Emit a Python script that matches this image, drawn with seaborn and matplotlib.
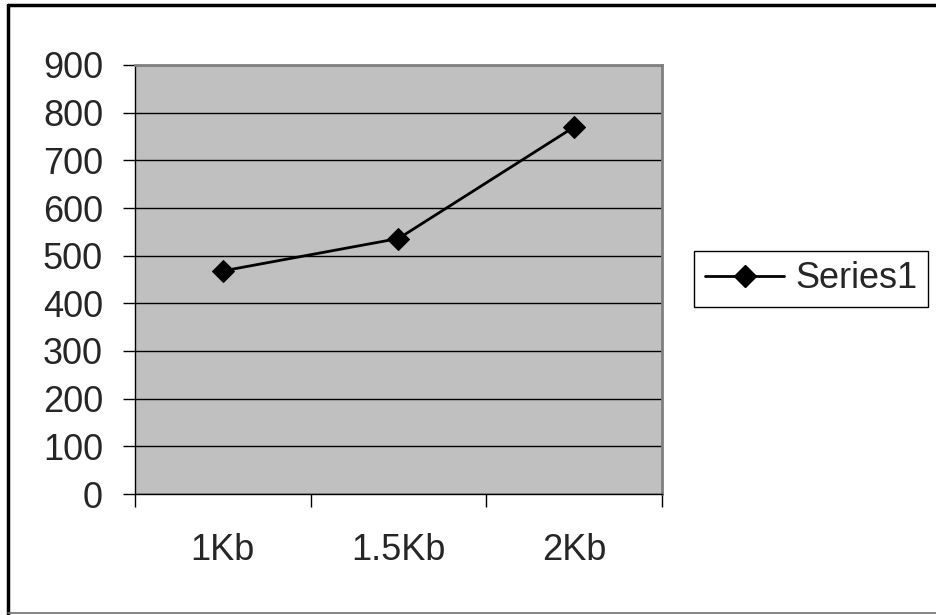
import matplotlib
matplotlib.use("Agg")
import matplotlib.pyplot as plt
import seaborn as sns
import pandas as pd
from matplotlib.lines import Line2D

# chart data
categories = ["1Kb", "1.5Kb", "2Kb"]
series1 = [468, 536, 770]
y_ticks = [0, 100, 200, 300, 400, 500, 600, 700, 800, 900]

df = pd.DataFrame({"size": categories, "value": series1})

sns.set_style("white")
plt.rcParams["font.family"] = ["Liberation Sans", "DejaVu Sans"]

W, H = 936, 615
fig = plt.figure(figsize=(W / 100, H / 100), dpi=100)
ax = fig.add_axes([135 / W, 1 - 494 / H, (662 - 135) / W, (494 - 65) / H])
ax.set_facecolor("#c0c0c0")

sns.lineplot(data=df, x="size", y="value", ax=ax, color="black", linewidth=2,
             marker="D", markersize=11, markeredgecolor="black", sort=False, legend=False)

ax.set_ylim(0, 900)
ax.set_xlim(-0.5, len(categories) - 0.5)
ax.set_yticks(y_ticks)
ax.set_yticklabels([str(v) for v in y_ticks], fontsize=26)
ax.yaxis.grid(True, color="black", linewidth=1)
ax.set_axisbelow(True)

# tick marks sit on the category boundaries, labels in between
ax.set_xticks([i - 0.5 for i in range(len(categories) + 1)])
ax.set_xticklabels([])
ax.set_xticks(range(len(categories)), minor=True)
ax.set_xticklabels(categories, minor=True, fontsize=26)
ax.tick_params(axis="x", which="major", bottom=True, length=9, width=1,
               color="black", direction="out")
ax.tick_params(axis="x", which="minor", bottom=True, length=0, pad=28)
ax.tick_params(axis="y", left=True, length=9, width=1, color="black",
               direction="out", pad=14)
ax.set_xlabel("")
ax.set_ylabel("")

for side in ["top", "right"]:
    ax.spines[side].set_color("#808080")
    ax.spines[side].set_linewidth(2)
for side in ["left", "bottom"]:
    ax.spines[side].set_color("black")
    ax.spines[side].set_linewidth(1)

# legend
handle = Line2D([], [], color="black", linewidth=2, marker="D", markersize=11)
leg = fig.legend([handle], ["Series1"], loc="center left",
                 bbox_to_anchor=(694 / W, 1 - 279 / H), fontsize=26,
                 frameon=True, fancybox=False, framealpha=1, edgecolor="black",
                 handlelength=2.2, handletextpad=0.3, borderpad=0.3, borderaxespad=0)
leg.get_frame().set_linewidth(1)

# chart area border: thick black top/left, thin grey bottom
fig.add_artist(Line2D([8 / W, 8 / W], [1 - 5 / H, 0], transform=fig.transFigure,
                      color="black", linewidth=2.5))
fig.add_artist(Line2D([8 / W, 1], [1 - 5 / H, 1 - 5 / H], transform=fig.transFigure,
                      color="black", linewidth=2.5))
fig.add_artist(Line2D([8 / W, 1], [1 - 613 / H, 1 - 613 / H], transform=fig.transFigure,
                      color="#707070", linewidth=1.2))

fig.savefig("out.png", dpi=100)
